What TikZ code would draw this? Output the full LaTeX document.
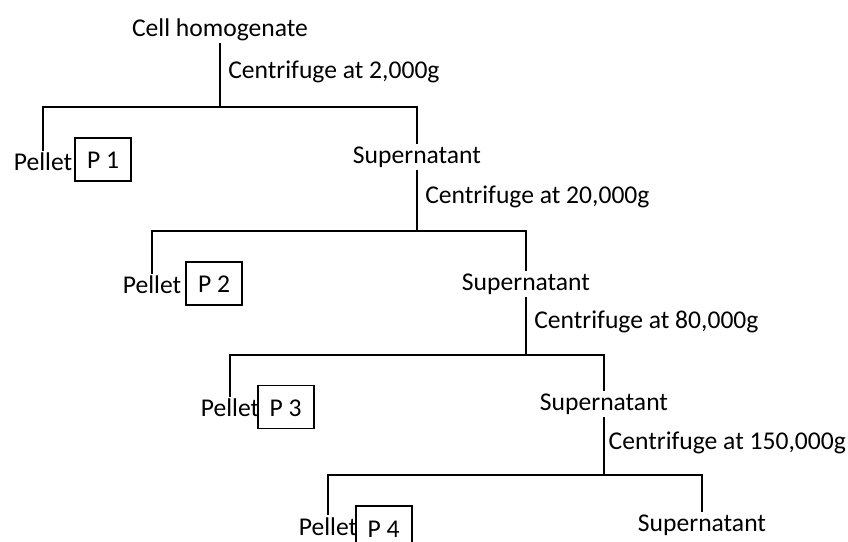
\documentclass[tikz,border=0pt]{standalone}
\usepackage{fontspec}
\setmainfont{Carlito}
\begin{document}
\begin{tikzpicture}[every node/.style={inner sep=1.5pt,font=\fontsize{18.2}{21}\selectfont},
    pbox/.style={draw,line width=1.4pt,minimum width=1.4cm,minimum height=1.075cm,inner sep=0pt,text height=0.47cm},
    step label/.style={anchor=west,inner sep=0pt},
    tree/.style={black,line width=1.4pt}]
        \useasboundingbox (0,0) rectangle (21.2,-13.55);
        % start
        \node at (5.5,-0.75) (cell) {Cell homogenate};
        \node[step label] at (5.7,-1.8) (c1) {Centrifuge at 2,000g};
        \coordinate (j1) at (5.5,-2.675);
        \node at (1.075,-4.05) (pel1) {Pellet};
        \node[pbox] at (2.575,-3.99) (p1) {P 1};
        \node at (10.425,-3.925) (sup1) {Supernatant};
        % second spin
        \node[step label] at (10.625,-4.925) (c2) {Centrifuge at 20,000g};
        \coordinate (j2) at (10.425,-5.775);
        \node at (3.8,-7.125) (pel2) {Pellet};
        \node[pbox] at (5.35,-7.09) (p2) {P 2};
        \node at (13.15,-7.1) (sup2) {Supernatant};
        % third spin
        \node[step label] at (13.35,-8.05) (c3) {Centrifuge at 80,000g};
        \coordinate (j3) at (13.15,-8.875);
        \node at (5.75,-10.2) (pel3) {Pellet};
        \node[pbox] at (7.14,-10.175) (p3) {P 3};
        \node at (15.1,-10.1) (sup3) {Supernatant};
        % fourth spin
        \node[step label] at (15.21,-11.075) (c4) {Centrifuge at 150,000g};
        \coordinate (j4) at (15.1,-11.875);
        \node at (8.2,-13.17) (pel4) {Pellet};
        \node[pbox] at (9.59,-13.19) (p4) {P 4};
        \node at (17.55,-13.125) (sup4) {Supernatant};
        \draw[tree] (cell) -- (j1);
        \draw[tree] (pel1) |- (j1) -| (sup1);
        \draw[tree] (sup1) -- (j2);
        \draw[tree] (pel2) |- (j2) -| (sup2);
        \draw[tree] (sup2) -- (j3);
        \draw[tree] (pel3) |- (j3) -| (sup3);
        \draw[tree] (sup3) -- (j4);
        \draw[tree] (pel4) |- (j4) -| (sup4);
    \end{tikzpicture}
\end{document}
